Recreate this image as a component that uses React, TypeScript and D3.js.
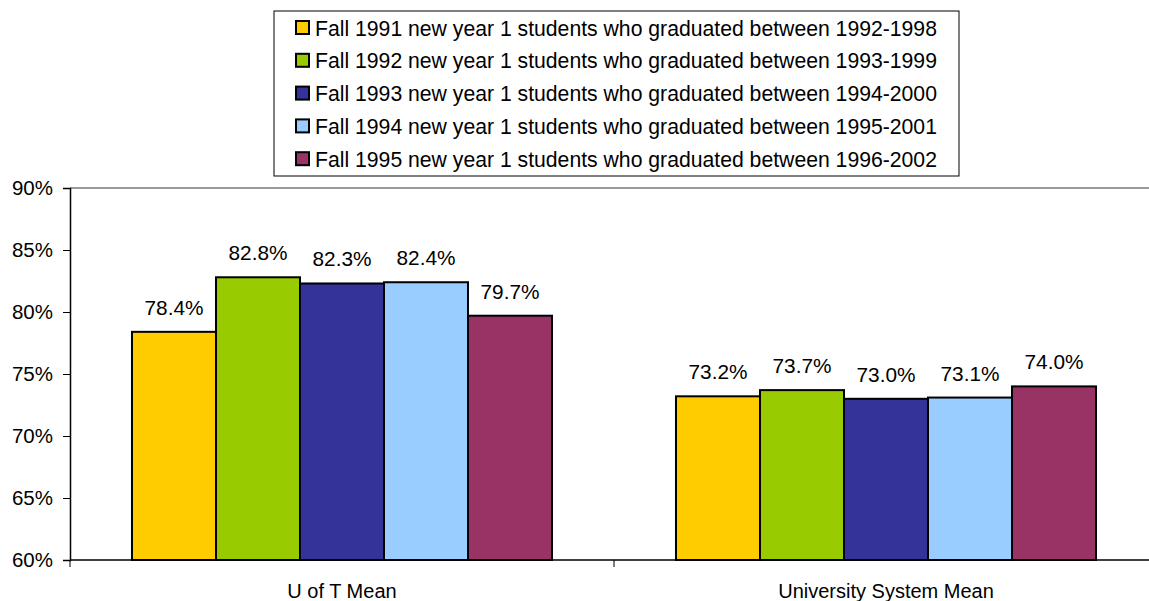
import React, { useEffect, useRef } from 'react';
import * as d3 from 'd3';

const categories = ['U of T Mean', 'University System Mean'];
const series = [
  'Fall 1991 new year 1 students who graduated between 1992-1998',
  'Fall 1992 new year 1 students who graduated between 1993-1999',
  'Fall 1993 new year 1 students who graduated between 1994-2000',
  'Fall 1994 new year 1 students who graduated between 1995-2001',
  'Fall 1995 new year 1 students who graduated between 1996-2002',
];
const colors = ['#FFCC00', '#99CC00', '#333399', '#99CCFF', '#993366'];
const uoftValues = [78.4, 82.8, 82.3, 82.4, 79.7];
const systemValues = [73.2, 73.7, 73.0, 73.1, 74.0];
const yTicks = [60, 65, 70, 75, 80, 85, 90];

const W = 1149;
const H = 601;
const FONT = '"Liberation Sans", Arial, sans-serif';

const App = () => {
  const ref = useRef<SVGSVGElement | null>(null);

  useEffect(() => {
    const svg = d3.select(ref.current);
    svg.selectAll('*').remove();

    const margin = { left: 70, top: 188, right: -9, bottom: 41 };
    const plotRight = W - margin.right;
    const plotBottom = H - margin.bottom;

    const x0 = d3.scaleBand().domain(categories).range([margin.left, plotRight]).padding(0);
    const x1 = d3.scaleBand().domain(series).range([0, x0.bandwidth()])
      .paddingInner(0).paddingOuter(0.738);
    const y = d3.scaleLinear().domain([60, 90]).range([plotBottom, margin.top]);

    const rows = categories.map((c, i) => ({
      cat: c,
      values: i === 0 ? uoftValues : systemValues,
    }));

    // top border of plot area
    svg.append('line')
      .attr('x1', margin.left).attr('x2', plotRight)
      .attr('y1', margin.top).attr('y2', margin.top)
      .attr('stroke', '#999').attr('stroke-width', 2);

    // bars
    const groups = svg.selectAll('g.grp')
      .data(rows)
      .enter().append('g')
      .attr('transform', d => `translate(${x0(d.cat)},0)`);

    groups.selectAll('rect')
      .data(d => d.values.map((v, i) => ({ v, s: series[i], i })))
      .enter().append('rect')
      .attr('x', d => x1(d.s)!)
      .attr('y', d => y(d.v))
      .attr('width', x1.bandwidth())
      .attr('height', d => plotBottom - y(d.v))
      .attr('fill', d => colors[d.i])
      .attr('stroke', '#000')
      .attr('stroke-width', 2);

    groups.selectAll('text')
      .data(d => d.values.map((v, i) => ({ v, s: series[i], i })))
      .enter().append('text')
      .attr('x', d => x1(d.s)! + x1.bandwidth() / 2)
      .attr('y', d => y(d.v) - 17)
      .attr('text-anchor', 'middle')
      .style('font-family', FONT)
      .style('font-size', '20.8px')
      .text(d => d.v.toFixed(1) + '%');

    // y axis
    const yAxis = d3.axisLeft(y)
      .tickValues(yTicks)
      .tickSize(7)
      .tickPadding(10)
      .tickFormat(d => `${d}%`);
    const gy = svg.append('g')
      .attr('transform', `translate(${margin.left},0)`)
      .call(yAxis);
    gy.select('.domain').attr('stroke', '#000').attr('stroke-width', 1.5);
    gy.selectAll('.tick line').attr('stroke', '#000');
    gy.selectAll('.tick text')
      .style('font-family', FONT)
      .style('font-size', '20.5px')
      .attr('fill', '#000');

    // x axis
    const gx = svg.append('g')
      .attr('transform', `translate(0,${plotBottom})`);
    gx.append('line')
      .attr('x1', margin.left).attr('x2', plotRight)
      .attr('y1', 0).attr('y2', 0)
      .attr('stroke', '#000').attr('stroke-width', 1.5);
    gx.selectAll('line.tk')
      .data(categories.concat(['end']))
      .enter().append('line')
      .attr('class', 'tk')
      .attr('x1', (d, i) => margin.left + i * x0.bandwidth())
      .attr('x2', (d, i) => margin.left + i * x0.bandwidth())
      .attr('y1', 0).attr('y2', 7)
      .attr('stroke', '#000');
    gx.selectAll('text')
      .data(categories)
      .enter().append('text')
      .attr('x', d => x0(d)! + x0.bandwidth() / 2)
      .attr('y', 38)
      .attr('text-anchor', 'middle')
      .style('font-family', FONT)
      .style('font-size', '20px')
      .text(d => d);

    // legend
    const lg = svg.append('g');
    lg.append('rect')
      .attr('x', 274).attr('y', 11)
      .attr('width', 685).attr('height', 165)
      .attr('fill', '#fff')
      .attr('stroke', '#000')
      .attr('stroke-width', 1);
    const items = lg.selectAll('g.item')
      .data(series)
      .enter().append('g')
      .attr('transform', (d, i) => `translate(296,${28 + i * 32.8})`);
    items.append('rect')
      .attr('x', 0).attr('y', -7)
      .attr('width', 13).attr('height', 13)
      .attr('fill', (d, i) => colors[i])
      .attr('stroke', '#000')
      .attr('stroke-width', 2);
    items.append('text')
      .attr('x', 19)
      .attr('y', 0)
      .attr('dy', '0.36em')
      .style('font-family', FONT)
      .style('font-size', '21.2px')
      .text(d => d);
  }, []);

  return (
    <svg
      ref={ref}
      width={W}
      height={H}
      style={{ position: 'absolute', left: 0, top: 0, background: '#fff' }}
    />
  );
};

export default App;
